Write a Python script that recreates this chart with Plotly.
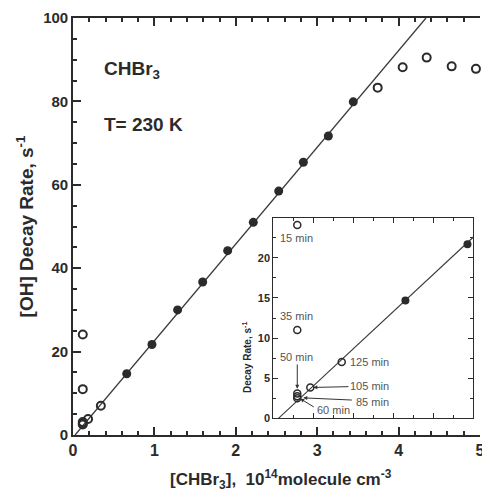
import plotly.graph_objects as go

# ---- data ----
filled_x = [0.66, 0.97, 1.285, 1.593, 1.90, 2.215, 2.527, 2.83, 3.137, 3.443]
filled_y = [14.7, 21.7, 30.0, 36.7, 44.2, 51.0, 58.5, 65.4, 71.7, 79.9]
open_x = [0.12, 0.12, 0.12, 0.12, 0.12, 0.185, 0.342, 3.743, 4.05, 4.345, 4.652, 4.95]
open_y = [24.1, 11.0, 3.1, 2.75, 2.5, 3.85, 7.03, 83.3, 88.2, 90.5, 88.4, 87.8]
fit_slope = 23.2
fit_intercept = -0.6
inset_labels = ["15 min", "35 min", "50 min", "125 min", "105 min", "85 min", "60 min"]
inset_label_x = [0.117, 0.117, 0.116, 0.482, 0.479, 0.496, 0.30]
inset_label_y = [22.5, 12.8, 7.65, 7.03, 4.05, 2.06, 1.03]
x_ticks = [0, 1, 2, 3, 4, 5]
y_ticks = [0, 20, 40, 60, 80, 100]
inset_y_ticks = [0, 5, 10, 15, 20]

INK = "#2b2b2b"
FONT = "Liberation Sans, Arial, sans-serif"

x0 = -fit_intercept / fit_slope
x1 = (100 - fit_intercept) / fit_slope
fit_x = [x0, x1]
fit_y = [fit_slope * v + fit_intercept for v in fit_x]
fit_x_in = [x0, 1.0]
fit_y_in = [fit_slope * v + fit_intercept for v in fit_x_in]

in_open = [(a, b) for a, b in zip(open_x, open_y) if a <= 1 and b <= 25]
in_fill = [(a, b) for a, b in zip(filled_x, filled_y) if a <= 1 and b <= 25]

fig = go.Figure()
# main
fig.add_trace(go.Scatter(x=fit_x, y=fit_y, mode="lines", line=dict(color="#3a3a3a", width=1.3),
                         xaxis="x", yaxis="y", showlegend=False, hoverinfo="skip"))
fig.add_trace(go.Scatter(x=filled_x, y=filled_y, mode="markers",
                         marker=dict(symbol="circle", size=9, color=INK, line=dict(width=0)),
                         xaxis="x", yaxis="y", showlegend=False))
fig.add_trace(go.Scatter(x=open_x, y=open_y, mode="markers",
                         marker=dict(symbol="circle-open", size=8, color=INK, line=dict(width=2, color=INK)),
                         xaxis="x", yaxis="y", showlegend=False, cliponaxis=False))
# inset
fig.add_trace(go.Scatter(x=fit_x_in, y=fit_y_in, mode="lines", line=dict(color="#3a3a3a", width=1.1),
                         xaxis="x2", yaxis="y2", showlegend=False, hoverinfo="skip"))
fig.add_trace(go.Scatter(x=[p[0] for p in in_fill], y=[p[1] for p in in_fill], mode="markers",
                         marker=dict(symbol="circle", size=8, color=INK, line=dict(width=0)),
                         xaxis="x2", yaxis="y2", showlegend=False))
fig.add_trace(go.Scatter(x=[p[0] for p in in_open], y=[p[1] for p in in_open], mode="markers",
                         marker=dict(symbol="circle-open", size=7, color=INK, line=dict(width=1.5, color=INK)),
                         xaxis="x2", yaxis="y2", showlegend=False))

ann = []
for t, ax_, ay_ in zip(inset_labels, inset_label_x, inset_label_y):
    ann.append(dict(x=ax_, y=ay_, xref="x2", yref="y2", text=t, showarrow=False,
                    font=dict(family=FONT, size=11, color="#555555")))
# arrows: (head x, head y, tail x, tail y)
arrows = [(0.12, 3.7, 0.12, 6.9), (0.20, 3.85, 0.383, 3.95), (0.15, 2.55, 0.40, 2.27), (0.135, 2.45, 0.21, 1.3)]
for hx, hy, tx, ty in arrows:
    ann.append(dict(x=hx, y=hy, ax=tx, ay=ty, xref="x2", yref="y2", axref="x2", ayref="y2",
                    text="", showarrow=True, arrowhead=2, arrowsize=0.8, arrowwidth=1, arrowcolor="#333333"))
ann.append(dict(xref="paper", yref="paper", x=(102 - 73) / 407, y=(435 - 70) / 417, xanchor="left", yanchor="middle",
                text="CHBr<sub>3</sub>", showarrow=False, font=dict(family=FONT, size=19, color=INK, weight="bold")))
ann.append(dict(xref="paper", yref="paper", x=(102 - 73) / 407, y=(435 - 125) / 417, xanchor="left", yanchor="middle",
                text="T= 230 K", showarrow=False, font=dict(family=FONT, size=19, color=INK, weight="bold")))
ann.append(dict(xref="paper", yref="paper", x=(247 - 73) / 407, y=(435 - 358) / 417, xanchor="center", yanchor="middle",
                text="Decay Rate, s<sup>-1</sup>", textangle=-90, showarrow=False,
                font=dict(family=FONT, size=10, color=INK, weight="bold")))
ann.append(dict(xref="paper", yref="paper", x=(281 - 73) / 407, y=(435 - 479) / 417, xanchor="center", yanchor="middle",
                text="[CHBr<sub>3</sub>],  10<sup>14</sup>molecule cm<sup>-3</sup>", showarrow=False,
                font=dict(family=FONT, size=17, color=INK, weight="bold")))

axis_common = dict(showline=True, linecolor=INK, ticks="inside", tickcolor=INK, showgrid=False, zeroline=False,
                   automargin=False)

fig.update_layout(
    width=482, height=494,
    margin=dict(l=73, r=2, t=18, b=59),
    paper_bgcolor="white", plot_bgcolor="white",
    font=dict(family=FONT, color=INK),
    xaxis=dict(**axis_common, range=[0, 5], tickvals=x_ticks, linewidth=1.6, mirror="ticks",
               ticklabeloverflow="allow",
               ticklen=8, tickwidth=2, minor=dict(dtick=0.2, ticklen=4, tickwidth=1.5, ticks="inside", tickcolor=INK),
               tickfont=dict(size=16, weight="bold", family=FONT)),
    yaxis=dict(**axis_common, range=[0, 100], tickvals=y_ticks, linewidth=1.6,
               ticklen=8, tickwidth=2, minor=dict(dtick=5, ticklen=4, tickwidth=1.5, ticks="inside", tickcolor=INK),
               tickfont=dict(size=15, weight="bold", family=FONT),
               title=dict(text="[OH] Decay Rate, s<sup>-1</sup>", font=dict(size=19, weight="bold", family=FONT), standoff=5)),
    xaxis2=dict(**axis_common, domain=[0.492, 0.984], anchor="y2", range=[0, 1], dtick=0.2, showticklabels=False,
                mirror="ticks", linewidth=1, ticklen=5, tickwidth=1,
                minor=dict(dtick=0.1, ticklen=3, tickwidth=1, ticks="inside", tickcolor=INK)),
    yaxis2=dict(**axis_common, domain=[0.040, 0.521], anchor="x2", range=[0, 25], tickvals=inset_y_ticks,
                mirror="ticks", linewidth=1, ticklen=5, tickwidth=1,
                minor=dict(dtick=2.5, ticklen=3, tickwidth=1, ticks="inside", tickcolor=INK),
                tickfont=dict(size=11, weight="bold", family=FONT)),
    annotations=ann,
    shapes=[dict(type="rect", xref="x2 domain", yref="y2 domain", x0=0, x1=1, y0=0, y1=1,
                 fillcolor="white", line=dict(width=0), layer="below")],
)

fig.write_html("out.html")
